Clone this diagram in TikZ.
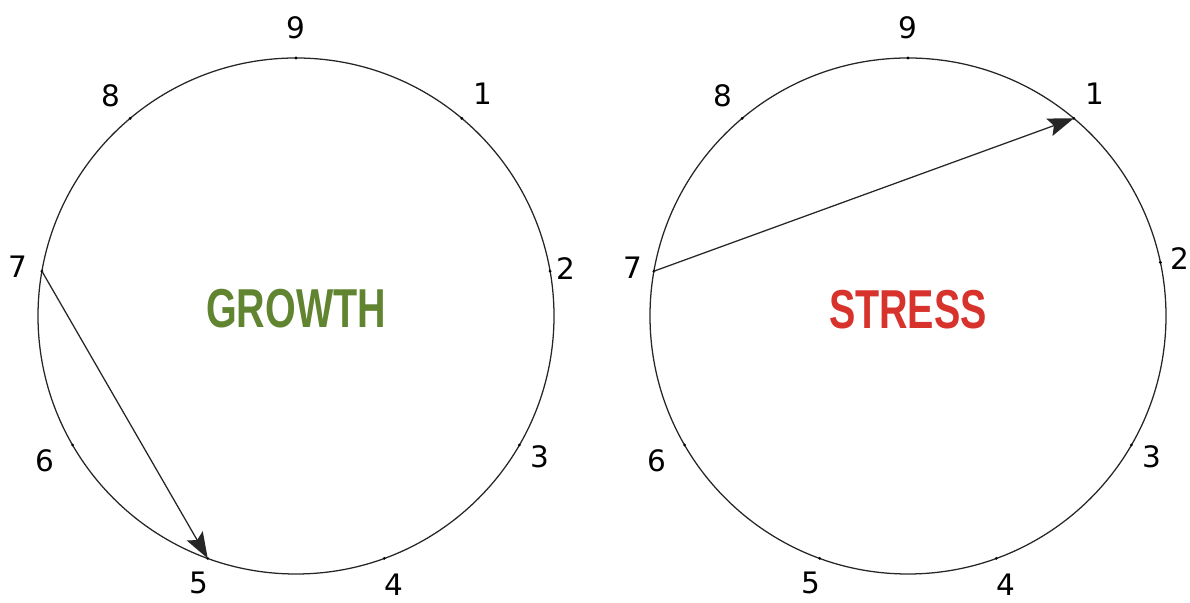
\documentclass[tikz,border=0pt]{standalone}
\usepackage{fontspec}
\setmainfont{DejaVu Sans}
\newfontfamily\headfont{Liberation Sans}
\usetikzlibrary{arrows.meta}
\definecolor{growthgreen}{RGB}{96,132,48}
\definecolor{stressred}{RGB}{216,50,44}

\begin{document}
\begin{tikzpicture}[every node/.style={font=\fontsize{21}{25}\selectfont},
	ring/.style={draw=black!85,line width=0.9pt},
	move/.style={draw=black!85,line width=0.9pt,-{Stealth[length=6.5mm,width=4.6mm,inset=1.2mm]}},
	headline/.style={font=\headfont\bfseries\fontsize{39}{44}\selectfont,xscale=0.72}]
	\useasboundingbox (0,0) rectangle (29.75,15.075);
	%---------------- LEFT: GROWTH ----------------
	\begin{scope}[xshift=0cm]
		\coordinate (c) at (7.4,7.175);
		\draw[ring] (c) circle (6.45);
		
		% points and numbers round the circle
		\foreach \N/\A/\D in {9/90/7.2,1/50/7.25,2/10/6.85,3/-30/7.05,4/-70/7.15,5/-110/7.1,6/-150/7.25,7/170/7.05,8/130/7.2} {
			\coordinate (p\N) at ([shift=(\A:6.45)]c);
			\fill (p\N) circle (1.1pt);
			\node (n\N) at ([shift=(\A:\D)]c) {\N};
		}
		\node[headline,text=growthgreen] (head) at ([yshift=0.18cm]c) {GROWTH};
		
		% direction of integration: 7 -> 5
		\draw[move] (p7) -- (p5);
	\end{scope}
	
	%---------------- RIGHT: STRESS ----------------
	\begin{scope}[xshift=15.3cm]
		\coordinate (c) at (7.4,7.175);
		\draw[ring] (c) circle (6.45);
		
		% points and numbers round the circle
		\foreach \N/\A/\D in {9/90/7.2,1/50/7.25,2/12/6.95,3/-30/7.05,4/-70/7.15,5/-110/7.1,6/-150/7.25,7/170/6.98,8/130/7.2} {
			\coordinate (p\N) at ([shift=(\A:6.45)]c);
			\fill (p\N) circle (1.1pt);
			\node (n\N) at ([shift=(\A:\D)]c) {\N};
		}
		\node[headline,text=stressred] (head) at ([yshift=0.15cm]c) {STRESS};
		
		% direction of disintegration: 7 -> 1
		\draw[move] (p7) -- (p1);
	\end{scope}
\end{tikzpicture}
\end{document}
